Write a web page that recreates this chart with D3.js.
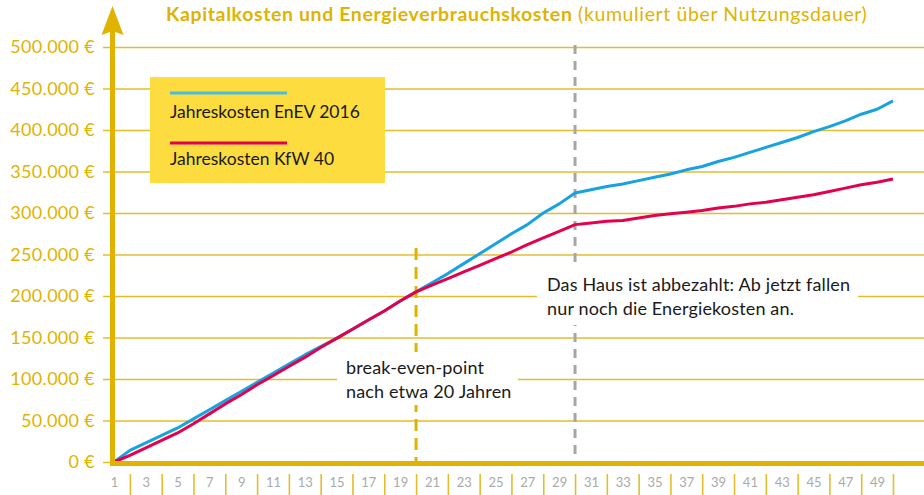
<!DOCTYPE html>
<html>
<head>
<meta charset="utf-8">
<script src="https://cdn.jsdelivr.net/npm/d3@7"></script>
<style>
  body { margin: 0; background: #fff; }
  svg text { font-family: Lato, 'Open Sans', sans-serif; }
</style>
</head>
<body>
<div id="chart"></div>
<script>
// years of use
const years = d3.range(1, 51);

// cumulated costs in euro
const enev2016 = [
  0, 14000, 23000, 32000, 41000, 52000, 63000, 74000, 85000, 96000,
  107000, 118000, 129000, 139000, 149000, 160000, 171000, 182000, 194000, 205000,
  216000, 227000, 239000, 251000, 263000, 275000, 286000, 300000, 311000, 324000,
  328000, 332000, 335000, 339000, 343000, 347000, 352000, 356000, 362000, 367000,
  373000, 379000, 385000, 391000, 398000, 404000, 411000, 419000, 425000, 435000
];
const kfw40 = [
  0, 8000, 17000, 26000, 35000, 46000, 58000, 70000, 81000, 93000,
  104000, 115000, 126000, 138000, 149000, 160000, 171000, 182000, 194000, 205000,
  213000, 221000, 229000, 237000, 245000, 253000, 262000, 270000, 278000, 286000,
  288000, 290000, 291000, 294000, 297000, 299000, 301000, 303000, 306000, 308000,
  311000, 313000, 316000, 319000, 322000, 326000, 330000, 334000, 337000, 341000
];

const yTicks = [0, 50000, 100000, 150000, 200000, 250000, 300000, 350000, 400000, 450000, 500000];
const xLabels = years.filter(d => d % 2 === 1);
const xSeparators = years.filter(d => d % 2 === 0);

const breakEvenYear = 20;
const paidOffYear = 30;

const width = 924;
const height = 495;
const gold = '#dfb300';
const gridGold = '#e4bd2c';
const blue = '#17a2e0';
const red = '#e2004f';

const de = d3.formatLocale({
  decimal: ',',
  thousands: '.',
  grouping: [3],
  currency: ['', ' €']
});
const euro = de.format('$,');

const x = d3.scaleLinear().domain([1, 50]).range([114, 893]);
const y = d3.scaleLinear().domain([0, 500000]).range([462, 47]);

const svg = d3.select('#chart')
  .append('svg')
  .attr('width', width)
  .attr('height', height);

// title
const title = svg.append('text')
  .attr('x', 166)
  .attr('y', 21)
  .attr('font-size', '19.5px')
  .attr('letter-spacing', '0.62px')
  .attr('fill', gold);
title.append('tspan').attr('font-weight', 'bold').text('Kapitalkosten und Energieverbrauchskosten');
title.append('tspan').text(' (kumuliert über Nutzungsdauer)');

// grid + y labels
const yAxis = svg.append('g')
  .attr('transform', 'translate(103,0)')
  .call(d3.axisLeft(y).tickValues(yTicks).tickSize(-(width - 103)).tickPadding(8).tickFormat(euro));
yAxis.select('.domain').remove();
yAxis.selectAll('.tick line')
  .attr('stroke', gridGold)
  .attr('stroke-width', 1.6);
yAxis.selectAll('.tick text')
  .attr('fill', gold)
  .attr('font-size', '18px')
  .attr('letter-spacing', '0.3px')
  .attr('font-family', 'Lato, sans-serif');

// x separators and labels
const xSep = svg.append('g')
  .attr('transform', 'translate(0,474)')
  .call(d3.axisBottom(x).tickValues(xSeparators).tickSize(21).tickFormat(''));
xSep.select('.domain').remove();
xSep.selectAll('.tick line').attr('stroke', gridGold).attr('stroke-width', 1.6);

const xAxis = svg.append('g')
  .attr('transform', 'translate(0,476)')
  .call(d3.axisBottom(x).tickValues(xLabels).tickSize(0).tickPadding(2));
xAxis.select('.domain').remove();
xAxis.selectAll('.tick text')
  .attr('fill', '#aaaaaa')
  .attr('font-size', '13px')
  .attr('font-family', 'Lato, sans-serif');

// dashed markers
svg.append('line')
  .attr('x1', x(paidOffYear)).attr('x2', x(paidOffYear))
  .attr('y1', 45).attr('y2', 462)
  .attr('stroke', '#a6a6a6')
  .attr('stroke-width', 3)
  .attr('stroke-dasharray', '9,7');

svg.append('line')
  .attr('x1', x(breakEvenYear)).attr('x2', x(breakEvenYear))
  .attr('y1', 248).attr('y2', 462)
  .attr('stroke', gold)
  .attr('stroke-width', 3)
  .attr('stroke-dasharray', '12,7');

// annotation boxes (white, cut the grid)
svg.append('rect')
  .attr('x', 337).attr('y', 352)
  .attr('width', 181).attr('height', 53)
  .attr('fill', '#fff');
svg.append('rect')
  .attr('x', 537).attr('y', 268)
  .attr('width', 321).attr('height', 57)
  .attr('fill', '#fff');

const note1 = svg.append('text')
  .attr('font-size', '18px')
  .attr('letter-spacing', '0.15px')
  .attr('fill', '#1a1a1a');
note1.append('tspan').attr('x', 346).attr('y', 374).text('break-even-point');
note1.append('tspan').attr('x', 346).attr('y', 398).text('nach etwa 20 Jahren');

const note2 = svg.append('text')
  .attr('font-size', '18px')
  .attr('letter-spacing', '0.15px')
  .attr('fill', '#1a1a1a');
note2.append('tspan').attr('x', 547).attr('y', 291).text('Das Haus ist abbezahlt: Ab jetzt fallen');
note2.append('tspan').attr('x', 547).attr('y', 315).text('nur noch die Energiekosten an.');

// series
const line = d3.line()
  .x((d, i) => x(years[i]))
  .y(d => y(d));

svg.append('path')
  .datum(enev2016)
  .attr('d', line)
  .attr('fill', 'none')
  .attr('stroke', blue)
  .attr('stroke-width', 3)
  .attr('stroke-linejoin', 'round');

svg.append('path')
  .datum(kfw40)
  .attr('d', line)
  .attr('fill', 'none')
  .attr('stroke', red)
  .attr('stroke-width', 3)
  .attr('stroke-linejoin', 'round');

// axes (thick gold)
svg.append('line')
  .attr('x1', 110).attr('x2', width)
  .attr('y1', 463.5).attr('y2', 463.5)
  .attr('stroke', gold)
  .attr('stroke-width', 5);
svg.append('line')
  .attr('x1', 112.5).attr('x2', 112.5)
  .attr('y1', 30).attr('y2', 466)
  .attr('stroke', gold)
  .attr('stroke-width', 5);
svg.append('path')
  .attr('d', 'M112.5,6 L123.5,35 L112.5,31 L101.5,35 Z')
  .attr('fill', gold);

// legend
const legend = svg.append('g');
legend.append('rect')
  .attr('x', 150).attr('y', 77)
  .attr('width', 235).attr('height', 106)
  .attr('fill', '#fddc3f');

const legendItems = [
  {label: 'Jahreskosten EnEV 2016', color: '#4cbde0'},
  {label: 'Jahreskosten KfW 40', color: red}
];
legendItems.forEach((item, i) => {
  legend.append('line')
    .attr('x1', 170).attr('x2', 287)
    .attr('y1', 93 + i * 50).attr('y2', 93 + i * 50)
    .attr('stroke', item.color)
    .attr('stroke-width', 3);
  legend.append('text')
    .attr('x', 170)
    .attr('y', 118 + i * 47)
    .attr('font-size', '17.5px')
    .attr('fill', '#1a1a1a')
    .text(item.label);
});
</script>
</body>
</html>
